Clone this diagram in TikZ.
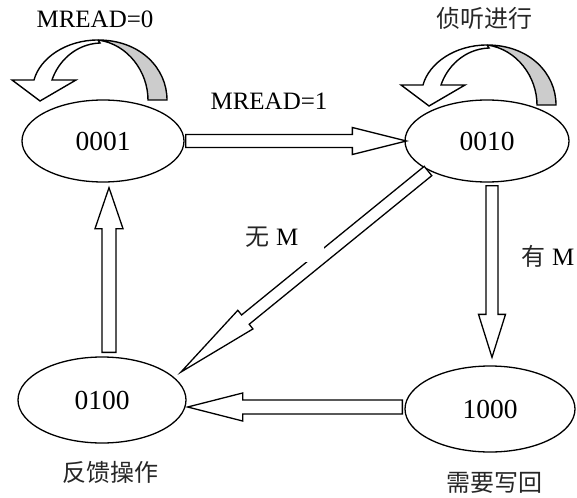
\documentclass[tikz,border=0pt]{standalone}
\usepackage{fontspec}
\setmainfont{Liberation Serif}
\newfontfamily\cjk{Noto Sans CJK SC}
\usetikzlibrary{shapes.geometric,calc}

\tikzset{
  state/.style={ellipse, draw, line width=1.3pt, inner sep=0pt,
    font=\fontsize{27.5}{27.5}\selectfont},
  lbl/.style={font=\fontsize{25}{25}\selectfont, inner sep=0pt},
  cjklbl/.style={font=\fontsize{24}{24}\selectfont\cjk, inner sep=0pt, text=black!85},
  hollow/.style={draw, fill=white, line width=1.3pt, line join=miter},
  ribbonback/.style={draw, fill=black!20, line width=1.4pt},
  ribbonfront/.style={draw, fill=white, line width=1.4pt, line join=miter},
  ribbon/.pic={
    % back face of the curved self-loop arrow
    \draw[ribbonback] (0,0) .. controls (42,0) and (69,28) .. (69,60)
      -- (50,60) .. controls (50,32) and (30,4) .. (0,0) -- cycle;
    % front face with its open arrowhead
    \draw[ribbonfront] (0,0) .. controls (-32,0) and (-58,18) .. (-64,40)
      -- (-86,40) -- (-58,61) -- (-22,40) -- (-46,40)
      .. controls (-40,22) and (-23,4) .. (2,3) -- cycle;
  }
}

% hollow block arrow: #1 start, #2 tip, #3 half shaft width,
% #4 half head width, #5 head length
\newcommand\hollowarrow[5]{%
  \coordinate (hb) at ($(#2)!#5!(#1)$);
  \draw[hollow] ($(#1)!#3!90:(#2)$) -- ($(hb)!#3!-90:(#1)$)
    -- ($(hb)!#4!-90:(#1)$) -- (#2) -- ($(hb)!#4!90:(#1)$)
    -- ($(hb)!#3!90:(#1)$) -- ($(#1)!#3!-90:(#2)$) -- cycle;
}

\begin{document}
\begin{tikzpicture}[x=1pt,y=-1pt]
\useasboundingbox (0,0) rectangle (577,497);

% states
\node[state, minimum width=162pt, minimum height=82pt] (s0001) at (103,141) {0001};
\node[state, minimum width=164pt, minimum height=82pt] (s0010) at (487,141) {0010};
\node[state, minimum width=168pt, minimum height=86pt] (s0100) at (102,400) {0100};
\node[state, minimum width=170pt, minimum height=86pt] (s1000) at (490,409) {1000};

% arrow end points
\coordinate (h1s) at ($(s0001.east)+(1,0)$);
\coordinate (h1t) at ($(s0010.west)+(2,0)$);
\coordinate (v1s) at ($(s0010.south)+(5,3)$);
\coordinate (v1t) at ($(s1000.north)+(2,-8)$);
\coordinate (h2s) at ($(s1000.west)+(-2,-2)$);
\coordinate (h2t) at ($(s0100.east)+(1,7)$);
\coordinate (v2s) at ($(s0100.north)+(7,-4)$);
\coordinate (v2t) at ($(s0001.south)+(6,5)$);
\coordinate (d1s) at ($(s0010.center)+(-59,30)$);
\coordinate (d1t) at ($(s0100.center)+(79,-28)$);

% transitions
\hollowarrow{h1s}{h1t}{6.5pt}{13.5pt}{54pt}
\hollowarrow{v1s}{v1t}{6pt}{13.5pt}{43pt}
\hollowarrow{h2s}{h2t}{7pt}{14pt}{55pt}
\hollowarrow{v2s}{v2t}{7pt}{14pt}{41pt}
\hollowarrow{d1s}{d1t}{6pt}{12pt}{83pt}

% break in the diagonal outline beside its label
\fill[white] (300,244) rectangle (324,261.5);

% self loops
\pic at ($(s0001.center)+(-5,-101)$) {ribbon};
\pic at ($(s0010.center)+(0,-96)$) {ribbon};

% labels
\node[lbl] (lm0) at (95,19.5) {MREAD=0};
\node[lbl] (lm1) at (269,101) {MREAD=1};
\node[cjklbl] (lzt) at (484,18) {侦听进行};
\node[lbl] (lwm) at (272,237) {{\cjk\fontsize{24}{24}\selectfont\color{black!85}无} M};
\node[lbl] (lym) at (548,256) {{\cjk\fontsize{24}{24}\selectfont\color{black!85}有} M};
\node[cjklbl] (lfk) at (110,472) {反馈操作};
\node[cjklbl] (lxy) at (494,483) {需要写回};
\end{tikzpicture}
\end{document}
